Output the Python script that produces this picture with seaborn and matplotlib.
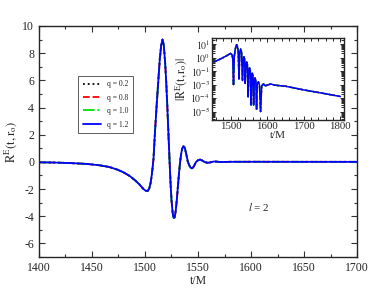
import pandas as pd
import seaborn as sns
import matplotlib.pyplot as plt
from matplotlib import ticker

# Main panel: waveform R^E(t, r_o) (all q curves lie on top of each other)
T_MAIN = [1400, 1415, 1430, 1445, 1457, 1466, 1474, 1480, 1486, 1491, 1495, 1498,
          1500.5, 1502.5, 1504, 1505.3, 1506.5, 1508, 1509.5, 1511, 1512.5, 1514,
          1515.3, 1516.5, 1517.7, 1519, 1520, 1521, 1522, 1523, 1524, 1525, 1526,
          1527, 1528, 1529, 1530, 1531, 1532, 1533, 1534, 1535, 1536.2, 1537.5,
          1539, 1540.3, 1541.5, 1543, 1544.3, 1546, 1548, 1550, 1552, 1554, 1556,
          1559, 1562, 1565, 1568, 1571, 1575, 1580, 1600, 1650, 1700]
R_MAIN = [-0.03, -0.05, -0.09, -0.15, -0.25, -0.37, -0.57, -0.78, -1.06, -1.38, -1.68, -1.95,
          -2.12, -2.15, -1.95, -1.55, -0.9, 0.2, 2.3, 4.2, 5.9, 7.6,
          8.6, 9.0, 8.6, 7.3, 5.9, 4.2, 2.3, 0.4, -1.4, -2.8, -3.7,
          -4.12, -4.1, -3.6, -2.8, -1.85, -0.9, -0.1, 0.55, 0.95, 1.15, 1.05,
          0.55, 0.05, -0.22, -0.42, -0.47, -0.35, -0.02, 0.12, 0.17, 0.1, 0.0,
          -0.07, -0.03, 0.03, 0.015, -0.01, -0.005, 0.005, 0.008, 0.004, 0.002]

# Inset: |R^E(t, r_o)| on a log axis
T_INSET = [1447, 1460, 1475, 1490, 1500, 1504, 1506, 1508, 1510, 1513, 1516.5, 1519,
           1521, 1523, 1525, 1527.5, 1530, 1532.5, 1535, 1536.5, 1538.5, 1540, 1542,
           1544, 1546, 1548, 1550, 1552, 1554, 1556, 1558, 1559.5, 1561, 1563, 1565,
           1567, 1569, 1571, 1573, 1576, 1579, 1582, 1585, 1590, 1595, 1600, 1610,
           1620, 1650, 1700, 1750, 1800]
ABS_INSET = [0.42, 0.55, 0.85, 1.4, 2.0, 1.6, 0.8, 0.01, 1.2, 4.5, 9.0, 6.5,
             2.5, 0.025, 2.4, 4.2, 2.6, 0.02, 0.9, 1.15, 0.7, 0.012, 0.3,
             0.47, 0.3, 0.0012, 0.12, 0.17, 0.1, 0.0003, 0.05, 0.07, 0.045, 0.0003, 0.025,
             0.03, 0.018, 0.00015, 0.012, 0.016, 0.009, 0.0001, 0.008, 0.011, 0.008, 0.009, 0.011,
             0.009, 0.0075, 0.004, 0.0023, 0.0013]

Q_LABELS = ["q = 0.2", "q = 0.8", "q = 1.0", "q = 1.2"]
Q_COLORS = ["black", "#ff0000", "#00e000", "#0000ff"]
Q_STYLES = [":", "--", "-.", "-"]

XTICKS_MAIN = [1400, 1450, 1500, 1550, 1600, 1650, 1700]
YTICKS_MAIN = [-6, -4, -2, 0, 2, 4, 6, 8, 10]
XTICKS_INSET = [1500, 1600, 1700, 1800]
YTICKS_INSET = [1e1, 1e0, 1e-1, 1e-2, 1e-3, 1e-4]
YTICKLABELS_INSET = [r"$10^{1}$", r"$10^{0}$", r"$10^{-1}$", r"$10^{-3}$",
                     r"$10^{-4}$", r"$10^{-5}$"]

sns.set_style("ticks")
plt.rcParams["font.family"] = ["Liberation Serif", "DejaVu Serif"]
plt.rcParams["mathtext.fontset"] = "stix"
plt.rcParams["axes.unicode_minus"] = False
plt.rcParams["axes.linewidth"] = 1.0

main_df = pd.DataFrame({"t": T_MAIN, "R": R_MAIN})
inset_df = pd.DataFrame({"t": T_INSET, "absR": ABS_INSET})

fig = plt.figure(figsize=(3.76, 2.91), dpi=100)
ax = fig.add_axes([0.1037, 0.1168, 0.8458, 0.7939])
axin = fig.add_axes([0.5646, 0.5876, 0.3503, 0.2828])

for label, color, ls in zip(Q_LABELS, Q_COLORS, Q_STYLES):
    sns.lineplot(data=main_df, x="t", y="R", ax=ax, color=color, linestyle=ls,
                 linewidth=1.3, label=label)
    sns.lineplot(data=inset_df, x="t", y="absR", ax=axin, color=color, linestyle=ls,
                 linewidth=1.1, legend=False)

# main panel
ax.set_xlim(1400, 1700)
ax.set_ylim(-7, 10)
ax.set_xticks(XTICKS_MAIN)
ax.set_yticks(YTICKS_MAIN)
ax.xaxis.set_minor_locator(ticker.MultipleLocator(25))
ax.yaxis.set_minor_locator(ticker.MultipleLocator(1))
ax.tick_params(which="both", direction="in", top=True, right=True, labelsize=8.5,
               width=0.8, color="#333333")
ax.tick_params(which="major", length=4)
ax.tick_params(which="minor", length=2.5)
ax.set_xlabel("t/M", fontsize=8.5, labelpad=1)
ax.set_ylabel(r"$\mathrm{R}^{\mathrm{E}}(\mathrm{t,r}_{\mathrm{o}})$", fontsize=9, labelpad=2)
ax.text(1607, -3.3, r"$\mathit{l}$ = 2", fontsize=8, ha="center", va="center")

leg = ax.legend(loc="upper left", bbox_to_anchor=(0.123, 0.784), fontsize=5.5,
                frameon=True, fancybox=False, edgecolor="#444444", framealpha=1,
                handlelength=2.4, borderpad=0.6, labelspacing=0.7, handletextpad=0.8,
                borderaxespad=0)
leg.get_frame().set_linewidth(0.6)

# inset
axin.set_yscale("log")
axin.set_xlim(1450, 1810)
axin.set_ylim(10 ** -4.63, 10 ** 1.47)
axin.set_xticks(XTICKS_INSET)
axin.set_yticks(YTICKS_INSET)
axin.set_yticklabels(YTICKLABELS_INSET)
axin.xaxis.set_minor_locator(ticker.MultipleLocator(20))
axin.yaxis.set_minor_locator(ticker.LogLocator(base=10, subs=range(2, 10), numticks=20))
axin.yaxis.set_minor_formatter(ticker.NullFormatter())
axin.tick_params(which="both", direction="in", top=True, right=True,
                 width=0.7, pad=1.5)
axin.tick_params(axis="x", labelsize=7.8)
axin.tick_params(axis="y", labelsize=7)
axin.tick_params(which="major", length=3)
axin.tick_params(which="minor", length=2)
axin.set_xlabel("t/M", fontsize=8, labelpad=0)
axin.set_ylabel(r"$|\mathrm{R}^{\mathrm{E}}(\mathrm{t,r}_{\mathrm{o}})|$", fontsize=8.5, labelpad=1)

fig.savefig("out.png", dpi=100)
